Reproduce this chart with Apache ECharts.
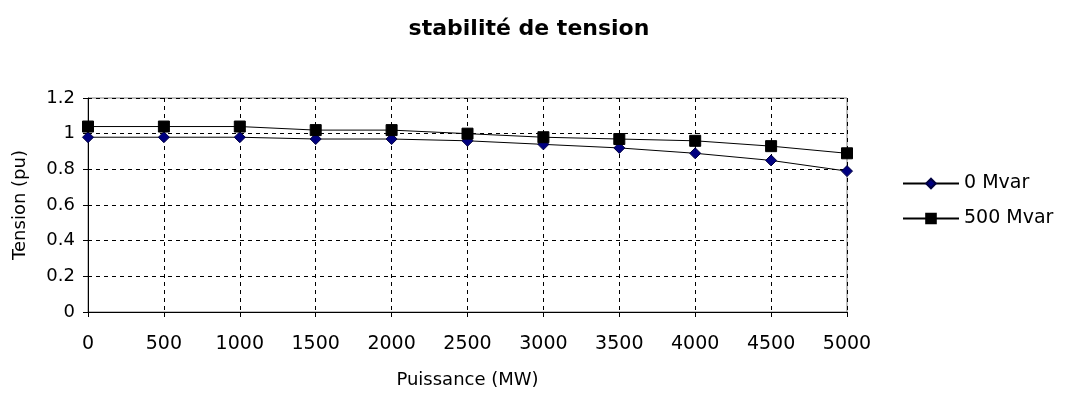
<!DOCTYPE html>
<html>
<head>
<meta charset="utf-8">
<script src="https://cdn.jsdelivr.net/npm/echarts@6/dist/echarts.min.js"></script>
<style>
html, body { margin: 0; padding: 0; background: #fff; }
#container { width: 1067px; height: 394px; }
</style>
</head>
<body>
<div id="container"></div>
<script>
var puissance = ['0', '500', '1000', '1500', '2000', '2500', '3000', '3500', '4000', '4500', '5000'];
var mvar0 = [0.98, 0.98, 0.98, 0.97, 0.97, 0.96, 0.94, 0.92, 0.89, 0.85, 0.79];
var mvar500 = [1.04, 1.04, 1.04, 1.02, 1.02, 1.0, 0.98, 0.97, 0.96, 0.93, 0.89];

var font = 'DejaVu Sans, sans-serif';
var myChart = echarts.init(document.getElementById('container'));

var option = {
    animation: false,
    backgroundColor: '#fff',
    title: {
        text: 'stabilité de tension',
        left: 524,
        textAlign: 'center',
        top: 13,
        textStyle: { fontFamily: font, fontSize: 22, fontWeight: 'bold', color: '#000' }
    },
    legend: {
        orient: 'vertical',
        left: 902,
        top: 174,
        padding: 0,
        itemGap: 16,
        itemWidth: 56,
        itemHeight: 12,
        textStyle: { fontFamily: font, fontSize: 19, color: '#000' },
        data: ['0 Mvar', '500 Mvar']
    },
    grid: {
        left: 88,
        right: 220,
        top: 98,
        bottom: 78,
        show: true,
        borderColor: '#808080',
        borderWidth: 1
    },
    xAxis: {
        type: 'category',
        data: puissance,
        boundaryGap: false,
        name: 'Puissance (MW)',
        nameLocation: 'middle',
        nameGap: 59,
        nameTextStyle: { fontFamily: font, fontSize: 18, color: '#000' },
        axisLine: { lineStyle: { color: '#000', width: 1 } },
        axisTick: { show: true, length: 5, lineStyle: { color: '#000' } },
        axisLabel: { fontFamily: font, fontSize: 19, color: '#000', margin: 23 },
        splitLine: { show: true, lineStyle: { color: '#000', type: [4, 4], width: 1 } }
    },
    yAxis: {
        type: 'value',
        min: 0,
        max: 1.2,
        interval: 0.2,
        name: 'Tension (pu)',
        nameLocation: 'middle',
        nameGap: 59,
        nameTextStyle: { fontFamily: font, fontSize: 18, color: '#000' },
        axisLine: { show: true, lineStyle: { color: '#000', width: 1 } },
        axisTick: { show: true, length: 5, lineStyle: { color: '#000' } },
        axisLabel: {
            fontFamily: font, fontSize: 18, color: '#000', margin: 13,
            formatter: function (v) { return String(Math.round(v * 10) / 10); }
        },
        splitLine: { show: true, lineStyle: { color: '#000', type: [4, 4], width: 1 } }
    },
    series: [
        {
            name: '0 Mvar',
            type: 'line',
            data: mvar0,
            symbol: 'diamond',
            symbolSize: 11,
            lineStyle: { color: '#000', width: 1 },
            itemStyle: { color: '#000080', borderColor: '#000040', borderWidth: 1 },
            z: 3
        },
        {
            name: '500 Mvar',
            type: 'line',
            data: mvar500,
            symbol: 'rect',
            symbolSize: 11,
            lineStyle: { color: '#000', width: 1 },
            itemStyle: { color: '#000', borderColor: '#000', borderWidth: 1 },
            z: 4
        }
    ]
};

myChart.setOption(option);
</script>
</body>
</html>
